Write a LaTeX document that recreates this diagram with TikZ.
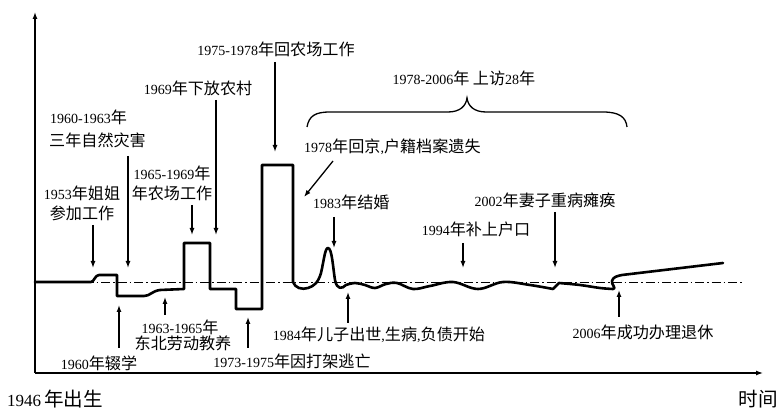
\documentclass[tikz,border=0pt]{standalone}
\usepackage{fontspec}
\setmainfont{Liberation Serif}
\newfontfamily\cjkfont[Scale=1.15]{Noto Sans CJK SC}
\newcommand\zh[1]{{\cjkfont #1}}
\usetikzlibrary{arrows.meta}
\begin{document}
\begin{tikzpicture}[x=1pt,y=-1pt,
  lbl/.style={font=\fontsize{14}{17}\selectfont, inner sep=0pt, anchor=center},
  biglbl/.style={font=\fontsize{17}{19}\selectfont, inner sep=0pt},
  arr/.style={line width=1.3pt, -{Latex[length=7pt,width=5pt]}},
  axisline/.style={line width=1.3pt, -{Latex[length=7pt,width=5pt]}},
  life/.style={line width=2.6pt, line join=round, line cap=round},
  dashdot/.style={line width=0.8pt, dash pattern=on 9pt off 3pt on 1.5pt off 3pt},
  bracel/.style={line width=1.3pt}]
\useasboundingbox (0,0) rectangle (779,411);
% axes
\coordinate (origin) at (35,373);
\coordinate (ytip) at (35,12);
\coordinate (xtip) at (763,373);
\draw[axisline] (origin) -- (ytip);
\draw[axisline] (origin) -- (xtip);
% base line
\coordinate (bl0) at (35,282);
\coordinate (bl1) at (743,282);
\draw[dashdot] (bl0) -- (bl1);
% life curve
\draw[life] (35,282) -- (91,282) .. controls (94,282) and (95,275) .. (99,275) -- (117,275) -- (117,296) -- (144,296)
  .. controls (150,296) and (152,291) .. (160,290) -- (184,289) -- (184,243) -- (210,243) -- (210,289) -- (236,289)
  -- (236,309) -- (262,309) -- (262,165) -- (293,165) -- (293,282)
  .. controls (295,288) and (302,290) .. (308,288) .. controls (314,286) and (318,283) .. (321,273)
  .. controls (324,260) and (325,248) .. (328,248) .. controls (332,248) and (333,268) .. (335,280)
  .. controls (337,290) and (342,289) .. (346,285)
  -- plot[smooth, tension=0.6] coordinates {(346,285) (355,283) (365,285) (375,288) (386,284) (397,283) (413,289) (430,286) (453,282) (478,289) (503,282) (530,285) (553,289)}
  -- (559,283)
  -- plot[smooth, tension=0.6] coordinates {(559,283) (580,285) (600,288) (613,289)}
  .. controls (617,289) and (611,284) .. (612,281) .. controls (613,277) and (617,276) .. (622,275) -- (723,263);
% brace
\draw[bracel] (307,127) .. controls (309,116) and (315,112) .. (330,112) -- (448,112)
  .. controls (460,112) and (466,106) .. (467,98) .. controls (468,106) and (474,112) .. (486,112)
  -- (603,112) .. controls (619,112) and (626,117) .. (627,127);
% labels
\node[lbl] (n1953a) at (82,193) {1953\zh{年姐姐}};
\node[lbl] (n1953b) at (82,213) {\zh{参加工作}};
\node[lbl, anchor=west] (n1960a) at (50,117) {1960-1963\zh{年}};
\node[lbl, anchor=west] (n1960b) at (49,140) {\zh{三年自然灾害}};
\node[lbl] (n1965a) at (172,173) {1965-1969\zh{年}};
\node[lbl] (n1965b) at (172,193) {\zh{年农场工作}};
\node[lbl] (n1969) at (198,88) {1969\zh{年下放农村}};
\node[lbl] (n1975) at (276,49) {1975-1978\zh{年回农场工作}};
\node[lbl, anchor=west] (n1978) at (304,147) {1978\zh{年回京},\zh{户籍档案遗失}};
\node[lbl, anchor=west] (n1983) at (313,202) {1983\zh{年结婚}};
\node[lbl] (nvisit) at (464,78) {1978-2006\zh{年} \zh{上访}28\zh{年}};
\node[lbl] (n2002) at (545,200) {2002\zh{年妻子重病瘫痪}};
\node[lbl] (n1994) at (476,229) {1994\zh{年补上户口}};
\node[lbl] (n2006) at (643,332) {2006\zh{年成功办理退休}};
\node[lbl] (n1984) at (379,335) {1984\zh{年儿子出世},\zh{生病},\zh{负债开始}};
\node[lbl] (n1963a) at (180,327) {1963-1965\zh{年}};
\node[lbl] (n1963b) at (183,343) {\zh{东北劳动教养}};
\node[lbl] (n1960c) at (99,363) {1960\zh{年辍学}};
\node[lbl] (n1973) at (292,361) {1973-1975\zh{年因打架逃亡}};
\node[biglbl, anchor=west] (nbirth) at (7,399) {1946\,\zh{年出生}};
\node[biglbl, anchor=east] (ntime) at (778,399) {\zh{时间}};
% arrows
\coordinate (a1s) at (93,225);  \coordinate (a1e) at (93,268);
\coordinate (a2s) at (128,156); \coordinate (a2e) at (128,268);
\coordinate (a3s) at (192,205); \coordinate (a3e) at (192,235);
\coordinate (a4s) at (216,100); \coordinate (a4e) at (216,235);
\coordinate (a5s) at (275,62);  \coordinate (a5e) at (275,152);
\coordinate (a6s) at (333,161); \coordinate (a6e) at (304,197);
\coordinate (a7s) at (334,217); \coordinate (a7e) at (334,248);
\coordinate (a8s) at (463,243); \coordinate (a8e) at (463,268);
\coordinate (a9s) at (555,212); \coordinate (a9e) at (555,268);
\coordinate (b1s) at (619,317); \coordinate (b1e) at (619,290);
\coordinate (b2s) at (348,323); \coordinate (b2e) at (348,292);
\coordinate (b3s) at (165,315); \coordinate (b3e) at (165,297);
\coordinate (b4s) at (119,348); \coordinate (b4e) at (119,305);
\coordinate (b5s) at (248,348); \coordinate (b5e) at (248,317);
\foreach \a in {a1,a2,a3,a4,a5,a6,a7,a8,a9,b1,b2,b3,b4,b5}
  \draw[arr] (\a s) -- (\a e);
\end{tikzpicture}
\end{document}
